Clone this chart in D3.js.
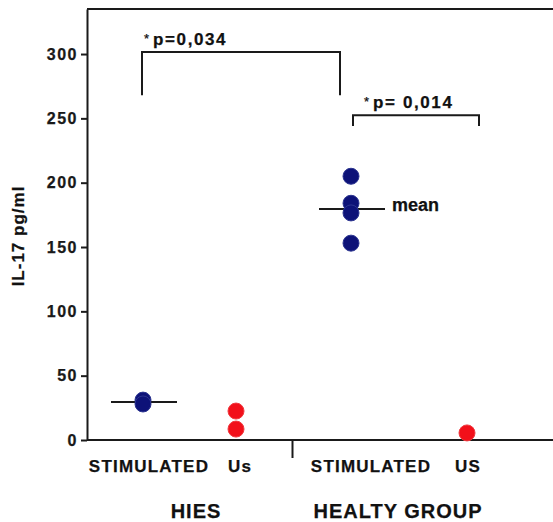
<!DOCTYPE html>
<html lang="en">
<head>
<meta charset="UTF-8">
<title>IL-17 pg/ml</title>
<script src="https://d3js.org/d3.v7.min.js"></script>
<style>
    body { margin: 0; background: #fff; }
    svg { font-family: "Liberation Sans", Arial, sans-serif; font-weight: bold; fill: #111; }
    .axis path, .axis line, .frame { stroke: #1a1a1a; stroke-width: 2; fill: none; }
    .axis text { font-size: 16px; letter-spacing: 1.5px; fill: #1a1a1a; font-weight: bold; }
    .cat { font-size: 17px; letter-spacing: 1.2px; }
    .grp { font-size: 20px; letter-spacing: 1px; }
    .ptext { font-size: 17px; letter-spacing: 1.6px; }
    .ast { font-size: 13px; font-weight: normal; letter-spacing: 0; }
    text { stroke: #111; stroke-width: 0.25px; }
</style>
</head>
<body>
<div id="chart"></div>
<script>
    // values
    var categories = ["HIES STIMULATED", "HIES US", "HEALTY STIMULATED", "HEALTY US"];
    var catLabels = ["STIMULATED", "Us", "STIMULATED", "US"];
    var groups = ["HIES", "HEALTY GROUP"];
    var hiesStimulated = [31, 28];
    var hiesUS = [22.5, 8.5];
    var healtyStimulated = [205, 184, 176.5, 153];
    var healtyUS = [5.5];
    var yTicks = [0, 50, 100, 150, 200, 250, 300];
    var pLabels = ["p=0,034", "p= 0,014"];

    var series = [hiesStimulated, hiesUS, healtyStimulated, healtyUS];
    var isStimulated = [true, false, true, false];

    var W = 553, H = 522;
    var plotLeft = 87, plotRight = 553, plotTop = 9, plotBottom = 440;

    var svg = d3.select("#chart").append("svg")
        .attr("width", W).attr("height", H);

    var y = d3.scaleLinear().domain([0, 335]).range([plotBottom, plotTop]);
    var x = d3.scaleOrdinal().domain(categories).range([143, 236, 351, 467]);

    // top frame line
    svg.append("line").attr("class", "frame")
        .attr("x1", plotLeft).attr("x2", plotRight)
        .attr("y1", y(335)).attr("y2", y(335));

    // y axis
    svg.append("g").attr("class", "axis")
        .attr("transform", "translate(" + plotLeft + ",0)")
        .call(d3.axisLeft(y).tickValues(yTicks).tickSize(6).tickSizeOuter(0).tickPadding(3));

    // x axis line + divider
    svg.append("line").attr("class", "frame")
        .attr("x1", plotLeft).attr("x2", plotRight)
        .attr("y1", y(0)).attr("y2", y(0));
    var divX = (x(categories[1]) + x(categories[2])) / 2 - 1;
    svg.append("line").attr("class", "frame")
        .attr("x1", divX).attr("x2", divX)
        .attr("y1", y(0)).attr("y2", y(0) + 18);

    // y label
    svg.append("text")
        .attr("transform", "translate(24,236) rotate(-90)")
        .attr("text-anchor", "middle")
        .style("font-size", "17px").style("letter-spacing", "1px")
        .text("IL-17 pg/ml");

    // category labels
    var labelDx = [6, 4, 20, 1];
    svg.selectAll(".cat").data(categories).enter().append("text")
        .attr("class", "cat")
        .attr("x", function(d, i){ return x(d) + labelDx[i]; })
        .attr("y", 472)
        .attr("text-anchor", "middle")
        .text(function(d, i){ return catLabels[i]; });

    // group labels
    var groupX = [196, 398];
    svg.selectAll(".grp").data(groups).enter().append("text")
        .attr("class", "grp")
        .attr("x", function(d, i){ return groupX[i]; })
        .attr("y", 518)
        .attr("text-anchor", "middle")
        .text(function(d){ return d; });

    // mean lines
    categories.forEach(function(c, i){
        if (!isStimulated[i]) return;
        var m = d3.mean(series[i]);
        svg.append("line")
            .attr("x1", x(c) - 32).attr("x2", x(c) + 34)
            .attr("y1", y(m)).attr("y2", y(m))
            .attr("stroke", "#1a1a1a").attr("stroke-width", 2);
    });

    // points
    categories.forEach(function(c, i){
        svg.append("g").selectAll("circle").data(series[i]).enter().append("circle")
            .attr("cx", x(c))
            .attr("cy", function(d){ return y(d); })
            .attr("r", 8)
            .attr("fill", isStimulated[i] ? "#0d1278" : "#f2101a")
            .attr("stroke", isStimulated[i] ? "#2b3490" : "#f03a40")
            .attr("stroke-width", 1);
    });

    // "mean" label
    var mHealty = d3.mean(healtyStimulated);
    svg.append("text")
        .attr("x", x(categories[2]) + 41)
        .attr("y", y(mHealty) + 2)
        .style("font-size", "18px")
        .text("mean");

    // significance brackets
    var brackets = [
        {a: 0, b: 2, dxa: -1, dxb: -11, top: 301.5, leg: 268, tx: 2},
        {a: 2, b: 3, dxa: 2, dxb: 12, top: 252.5, leg: 244, tx: 11}
    ];
    brackets.forEach(function(br, i){
        var x1 = x(categories[br.a]) + br.dxa, x2 = x(categories[br.b]) + br.dxb;
        svg.append("path")
            .attr("d", "M" + x1 + "," + y(br.leg) + "V" + y(br.top) + "H" + x2 + "V" + y(br.leg))
            .attr("fill", "none").attr("stroke", "#1a1a1a").attr("stroke-width", 2);
        var t = svg.append("text").attr("class", "ptext")
            .attr("x", x1 + br.tx)
            .attr("y", y(br.top) - 7);
        t.append("tspan").attr("class", "ast").attr("dy", -2).text("*");
        t.append("tspan").attr("dx", 4).attr("dy", 2).text(pLabels[i]);
    });
</script>
</body>
</html>
